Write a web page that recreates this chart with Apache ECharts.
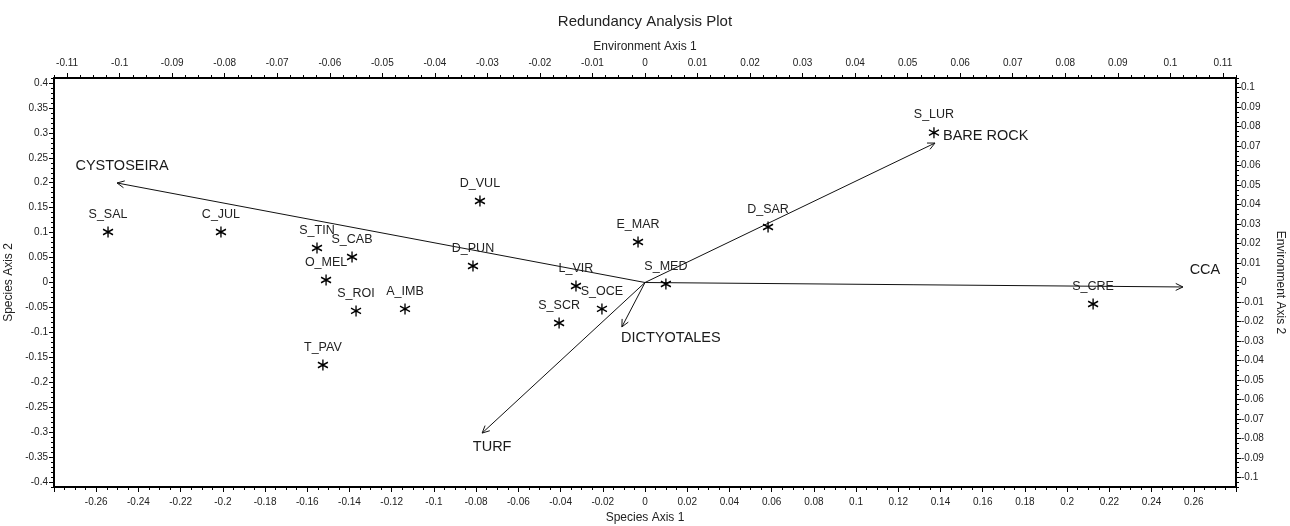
<!DOCTYPE html>
<html>
<head>
<meta charset="utf-8">
<title>Redundancy Analysis Plot</title>
<script src="https://cdn.jsdelivr.net/npm/echarts@6/dist/echarts.min.js"></script>
<style>
html, body { margin: 0; padding: 0; background: #fff; }
#main { width: 1290px; height: 526px; }
</style>
</head>
<body>
<div id="main"></div>
<script>
// species scores (Species Axis 1 / Species Axis 2)
var speciesNames = ['S_SAL', 'C_JUL', 'S_TIN', 'S_CAB', 'O_MEL', 'S_ROI', 'A_IMB', 'T_PAV', 'D_VUL',
	'D_PUN', 'E_MAR', 'L_VIR', 'S_OCE', 'S_SCR', 'S_MED', 'D_SAR', 'S_LUR', 'S_CRE'];
var speciesX = [-0.2544, -0.2009, -0.1554, -0.1388, -0.1511, -0.1369, -0.1137, -0.1526, -0.0782,
	-0.0815, -0.0033, -0.0327, -0.0204, -0.0407, 0.0099, 0.0583, 0.1369, 0.2123];
var speciesY = [0.1012, 0.1012, 0.0692, 0.0511, 0.005, -0.057, -0.053, -0.1654, 0.1634,
	0.0331, 0.0812, -0.007, -0.053, -0.0812, -0.003, 0.1113, 0.3003, -0.0431];

// environment vectors (Environment Axis 1 / Environment Axis 2)
var envNames = ['CYSTOSEIRA', 'CCA', 'BARE ROCK', 'TURF', 'DICTYOTALES'];
var envX = [-0.1005, 0.1024, 0.0552, -0.031, -0.0044];
var envY = [0.0511, -0.0023, 0.0716, -0.0773, -0.0228];

// tick labels
var topTicks = [-0.11, -0.1, -0.09, -0.08, -0.07, -0.06, -0.05, -0.04, -0.03, -0.02, -0.01, 0,
	0.01, 0.02, 0.03, 0.04, 0.05, 0.06, 0.07, 0.08, 0.09, 0.1, 0.11];
var leftTicks = [-0.4, -0.35, -0.3, -0.25, -0.2, -0.15, -0.1, -0.05, 0,
	0.05, 0.1, 0.15, 0.2, 0.25, 0.3, 0.35, 0.4];
var rightTicks = [-0.1, -0.09, -0.08, -0.07, -0.06, -0.05, -0.04, -0.03, -0.02, -0.01, 0,
	0.01, 0.02, 0.03, 0.04, 0.05, 0.06, 0.07, 0.08, 0.09, 0.1];

// label placement for the vector names (pixel offset from arrow tip)
var envLabelPos = {
	'CYSTOSEIRA': [5, -17, 'center'],
	'CCA': [22, -17, 'center'],
	'BARE ROCK': [8, -7, 'left'],
	'TURF': [10, 14, 'center'],
	'DICTYOTALES': [49, 11, 'center']
};

function minorSteps(from, to, step) {
	var out = [];
	var n = Math.round((to - from) / step);
	for (var i = 0; i <= n; i++) {
		out.push(Math.round((from + i * step) * 100000) / 100000);
	}
	return out;
}

var FONT = '"Liberation Sans", Arial, sans-serif';
var TXT = '#222';
var LINE = '#000';

var myChart = echarts.init(document.getElementById('main'));

var speciesData = [];
for (var i = 0; i < speciesNames.length; i++) {
	speciesData.push({ name: speciesNames[i], value: [speciesX[i], speciesY[i]] });
}
var envData = [];
for (var j = 0; j < envNames.length; j++) {
	envData.push([envX[j], envY[j]]);
}

function renderArrow(params, api) {
	var o = api.coord([0, 0]);
	var p = api.coord([api.value(0), api.value(1)]);
	var ang = Math.atan2(p[1] - o[1], p[0] - o[0]);
	var h = 8, a = 0.45;
	var l = [p[0] - h * Math.cos(ang - a), p[1] - h * Math.sin(ang - a)];
	var r = [p[0] - h * Math.cos(ang + a), p[1] - h * Math.sin(ang + a)];
	var name = envNames[params.dataIndex];
	var pos = envLabelPos[name];
	return {
		type: 'group',
		children: [{
			type: 'line',
			shape: { x1: o[0], y1: o[1], x2: p[0], y2: p[1] },
			style: { stroke: '#111', lineWidth: 1 }
		}, {
			type: 'polyline',
			shape: { points: [l, p, r] },
			style: { stroke: '#111', fill: null, lineWidth: 1 }
		}, {
			type: 'text',
			x: p[0] + pos[0],
			y: p[1] + pos[1],
			style: {
				text: name,
				fill: '#1a1a1a',
				font: '14.5px ' + FONT,
				align: pos[2],
				verticalAlign: 'middle'
			}
		}]
	};
}

var axisLabelStyle = { color: TXT, fontSize: 10, fontFamily: FONT };
var nameStyle = { color: TXT, fontSize: 12, fontFamily: FONT };

var option = {
	animation: false,
	backgroundColor: '#fff',
	title: {
		text: 'Redundancy Analysis Plot',
		left: 'center',
		top: 9,
		textStyle: { color: '#222', fontSize: 15, fontWeight: 'normal', fontFamily: FONT }
	},
	grid: { left: 54, right: 54, top: 78, bottom: 39, containLabel: false, outerBoundsMode: 'none' },
	xAxis: [{
		type: 'value',
		position: 'bottom',
		min: -0.28,
		max: 0.28,
		interval: 0.02,
		name: 'Species Axis 1',
		nameLocation: 'middle',
		nameGap: 25,
		nameTextStyle: nameStyle,
		axisLine: { onZero: false, lineStyle: { color: LINE, width: 2 } },
		axisTick: { length: 5, lineStyle: { color: LINE } },
		minorTick: { show: true, splitNumber: 4, length: 3, lineStyle: { color: LINE } },
		axisLabel: Object.assign({ margin: 10, showMinLabel: false, showMaxLabel: false }, axisLabelStyle),
		splitLine: { show: false },
		minorSplitLine: { show: false }
	}, {
		type: 'value',
		position: 'top',
		min: -0.1125,
		max: 0.1125,
		name: 'Environment Axis 1',
		nameLocation: 'middle',
		nameGap: 25,
		nameTextStyle: nameStyle,
		axisLine: { onZero: false, lineStyle: { color: LINE, width: 2 } },
		axisTick: { length: 5, customValues: topTicks, lineStyle: { color: LINE } },
		axisLabel: Object.assign({ margin: 10, customValues: topTicks }, axisLabelStyle),
		splitLine: { show: false }
	}, {
		type: 'value',
		position: 'top',
		min: -0.1125,
		max: 0.1125,
		axisLine: { show: false, onZero: false },
		axisTick: { length: 3, customValues: minorSteps(-0.1125, 0.1125, 0.0025), lineStyle: { color: LINE } },
		axisLabel: { show: false },
		splitLine: { show: false }
	}],
	yAxis: [{
		type: 'value',
		position: 'left',
		min: -0.41,
		max: 0.41,
		name: 'Species Axis 2',
		nameLocation: 'middle',
		nameGap: 34,
		nameTextStyle: nameStyle,
		axisLine: { onZero: false, lineStyle: { color: LINE, width: 2 } },
		axisTick: { length: 5, customValues: leftTicks, lineStyle: { color: LINE } },
		axisLabel: Object.assign({ margin: 6, customValues: leftTicks }, axisLabelStyle),
		splitLine: { show: false }
	}, {
		type: 'value',
		position: 'left',
		min: -0.41,
		max: 0.41,
		axisLine: { show: false, onZero: false },
		axisTick: { length: 3, customValues: minorSteps(-0.41, 0.41, 0.01), lineStyle: { color: LINE } },
		axisLabel: { show: false },
		splitLine: { show: false }
	}, {
		type: 'value',
		position: 'right',
		min: -0.105,
		max: 0.105,
		name: 'Environment Axis 2',
		nameLocation: 'middle',
		nameRotate: -90,
		nameGap: 33,
		nameTextStyle: nameStyle,
		axisLine: { onZero: false, lineStyle: { color: LINE, width: 2 } },
		axisTick: { length: 5, customValues: rightTicks, lineStyle: { color: LINE } },
		axisLabel: Object.assign({ margin: 5, customValues: rightTicks }, axisLabelStyle),
		splitLine: { show: false }
	}, {
		type: 'value',
		position: 'right',
		min: -0.105,
		max: 0.105,
		axisLine: { show: false, onZero: false },
		axisTick: { length: 3, customValues: minorSteps(-0.105, 0.105, 0.0025), lineStyle: { color: LINE } },
		axisLabel: { show: false },
		splitLine: { show: false }
	}],
	series: [{
		name: 'Environment',
		type: 'custom',
		xAxisIndex: 1,
		yAxisIndex: 2,
		clip: false,
		renderItem: renderArrow,
		data: envData,
		silent: true
	}, {
		name: 'Species',
		type: 'scatter',
		xAxisIndex: 0,
		yAxisIndex: 0,
		symbol: 'path://M5,0L5,10M0.67,2.5L9.33,7.5M0.67,7.5L9.33,2.5',
		symbolSize: [10, 11],
		symbolKeepAspect: false,
		itemStyle: { color: '#000', borderColor: '#000', borderWidth: 1.4, opacity: 1 },
		label: {
			show: true,
			position: 'top',
			distance: 5,
			formatter: '{b}',
			color: TXT,
			fontSize: 12.5,
			fontFamily: FONT
		},
		emphasis: { disabled: true },
		data: speciesData,
		z: 3
	}]
};

myChart.setOption(option);
</script>
</body>
</html>
